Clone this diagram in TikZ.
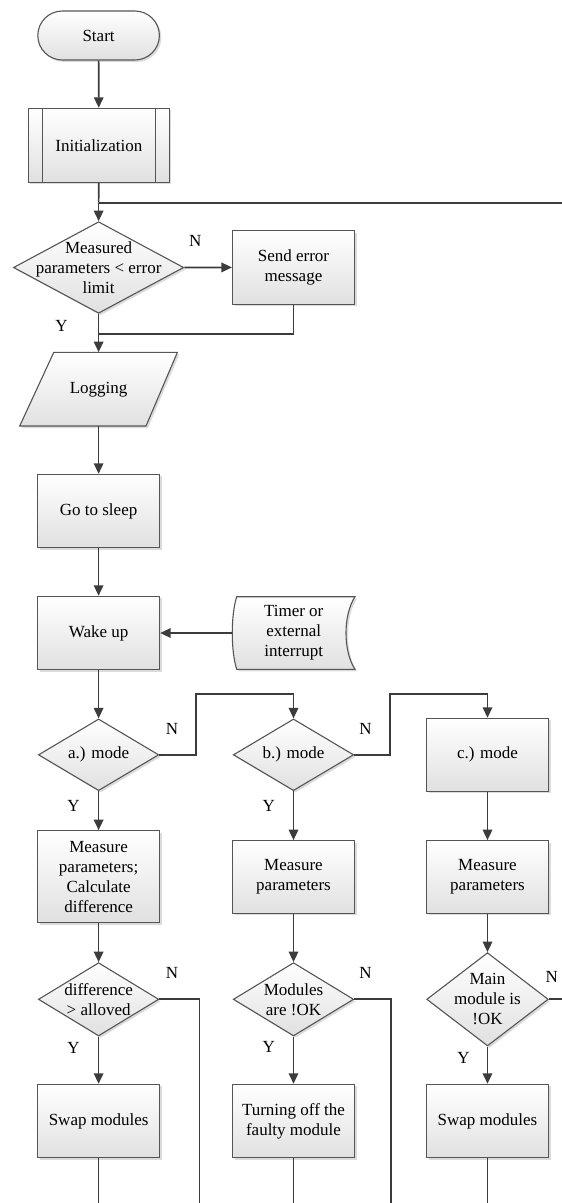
\documentclass[tikz,border=0pt]{standalone}
\usepackage{fontspec}
\setmainfont{Liberation Serif}
\usetikzlibrary{arrows.meta,shapes.geometric,shadows}
\definecolor{lc}{HTML}{3C3C3C}
\definecolor{oc}{HTML}{555555}
\begin{document}
\begin{tikzpicture}[x=1pt,y=-1pt,
  font=\fontsize{17}{20}\selectfont,
  base/.style={draw=oc, line width=1.1pt, top color=white, bottom color=black!12,
    drop shadow={shadow xshift=2pt, shadow yshift=-2pt, opacity=0.35, fill=black!40},
    align=center, inner sep=0pt},
  proc/.style={base, rectangle, minimum width=122pt, minimum height=73.4pt},
  dec/.style={base, diamond, minimum width=120.4pt, minimum height=72pt},
  txt/.style={align=center, inner sep=0pt},
  lbl/.style={inner sep=0pt},
  conn/.style={draw=lc, line width=1.7pt},
  arr/.style={conn, -{Triangle[length=10.5pt,width=9.5pt]}},
]
\useasboundingbox (0,0) rectangle (562,1203);

% ---- top part ----
\node[base, rectangle, rounded corners=24.5pt, minimum width=121.6pt, minimum height=49pt] (start) at (98.6,35.5) {Start};
\node[proc, minimum width=141pt, minimum height=73.7pt] (init) at (98.8,145.2) {Initialization};
\draw[draw=oc, line width=1.1pt] ([xshift=14.4pt]init.north west) -- ([xshift=14.4pt]init.south west);
\draw[draw=oc, line width=1.1pt] ([xshift=-14.4pt]init.north east) -- ([xshift=-14.4pt]init.south east);

\coordinate (j1) at (98.6,202.7);
\coordinate (loopR) at (562,202.7);

\node[dec, minimum width=170.3pt, minimum height=91.6pt] (d1) at (98.6,267.5) {};
\node[txt] (d1t) at (d1) {Measured\\parameters < error\\limit};
\node[proc] (err) at (293.5,267.4) {Send error\\message};
\node[lbl] (n1) at (195.3,240.7) {N};
\node[lbl] (y1) at (61.6,326) {Y};
\coordinate (j2) at (98.6,334);

% Logging (data / parallelogram)
\path[base] (19.7,426) -- (146,426) -- (177.4,352.3) -- (53.8,352.3) -- cycle;
\node[txt, minimum width=158pt, minimum height=73.7pt] (log) at (98.6,389.2) {Logging};

\node[proc] (sleep) at (98.6,511) {Go to sleep};
\node[proc] (wake) at (98.6,633) {Wake up};

% Timer (stored data)
\path[base] (236.7,596.7) -- (355,596.7) .. controls (343,615) and (343,651) .. (355,669.3)
  -- (236.7,669.3) .. controls (230.8,651) and (230.8,615) .. (236.7,596.7) -- cycle;
\node[txt, minimum width=122.7pt, minimum height=72.6pt] (timer) at (293.7,633) {Timer or\\external\\interrupt};

% ---- modes ----
\node[dec, minimum height=71.7pt] (da) at (98.6,754.8) {};
\node[txt] (dat) at (da) {a.) mode};
\node[dec, minimum height=71.7pt] (db) at (293.5,754.8) {};
\node[txt] (dbt) at (db) {b.) mode};
\node[proc, minimum height=72.7pt] (cc) at (487.5,754.7) {c.) mode};
\coordinate (ta) at (195.7,694);
\coordinate (tb) at (390.3,694);
\node[lbl] (na) at (172,729.3) {N};
\node[lbl] (nb) at (365.6,729.3) {N};
\node[lbl] (ya) at (73.5,806) {Y};
\node[lbl] (yb) at (268.8,806) {Y};

\node[proc, minimum height=92pt] (ma) at (98.6,876.7) {Measure\\parameters;\\Calculate\\difference};
\node[proc, minimum height=72.6pt] (mb) at (293.5,877) {Measure\\parameters};
\node[proc, minimum height=72.6pt] (mc) at (487.5,877) {Measure\\parameters};

\node[dec, minimum height=73.3pt] (fa) at (98.6,999.3) {};
\node[txt] (fat) at (fa) {difference\\> alloved};
\node[dec, minimum height=73.3pt] (fb) at (293.5,999.3) {};
\node[txt] (fbt) at (fb) {Modules\\are !OK};
\node[dec, minimum width=121.6pt, minimum height=93.3pt] (fc) at (487.5,999.3) {};
\node[txt] (fct) at (fc) {Main\\module is\\!OK};
\node[lbl] (nfa) at (172,972.7) {N};
\node[lbl] (nfb) at (365.6,972.7) {N};
\node[lbl] (nfc) at (551.7,976.7) {N};
\node[lbl] (yfa) at (73.5,1048.3) {Y};
\node[lbl] (yfb) at (268.8,1046.7) {Y};
\node[lbl] (yfc) at (463.4,1058.3) {Y};

\node[proc] (sa) at (98.6,1121) {Swap modules};
\node[proc] (sb) at (293.5,1121) {Turning off the\\faulty module};
\node[proc] (sc) at (487.5,1121) {Swap modules};

\coordinate (ea) at (199.6,1203);
\coordinate (eb) at (390.7,1203);
\coordinate (ec) at (562,999.3);
\coordinate (ba) at (98.6,1203);
\coordinate (bb) at (293.5,1203);
\coordinate (bc) at (487.5,1203);

% ---- connectors ----
\draw[arr] (start) -- (init);
\draw[conn] (init.south) -- (j1);
\draw[conn] (j1) -- (loopR);
\draw[arr] (j1) -- (d1.north);
\draw[arr] (d1.east) -- (err.west);
\draw[conn] (err.south) |- (j2);
\draw[arr] (d1.south) -- (log.north);
\draw[arr] (log.south) -- (sleep.north);
\draw[arr] (sleep) -- (wake);
\draw[arr] (timer.west) -- (wake.east);
\draw[arr] (wake) -- (da.north);
\draw[arr] (da.east) -| (ta) -| (db.north);
\draw[arr] (db.east) -| (tb) -| (cc.north);
\draw[arr] (da.south) -- (ma.north);
\draw[arr] (db.south) -- (mb.north);
\draw[arr] (cc) -- (mc);
\draw[arr] (ma.south) -- (fa.north);
\draw[arr] (mb.south) -- (fb.north);
\draw[arr] (mc.south) -- (fc.north);
\draw[arr] (fa.south) -- (sa.north);
\draw[arr] (fb.south) -- (sb.north);
\draw[arr] (fc.south) -- (sc.north);
\draw[conn] (fa.east) -| (ea);
\draw[conn] (fb.east) -| (eb);
\draw[conn] (fc.east) -- (ec);
\draw[conn] (sa.south) -- (ba);
\draw[conn] (sb.south) -- (bb);
\draw[conn] (sc.south) -- (bc);
\end{tikzpicture}
\end{document}
